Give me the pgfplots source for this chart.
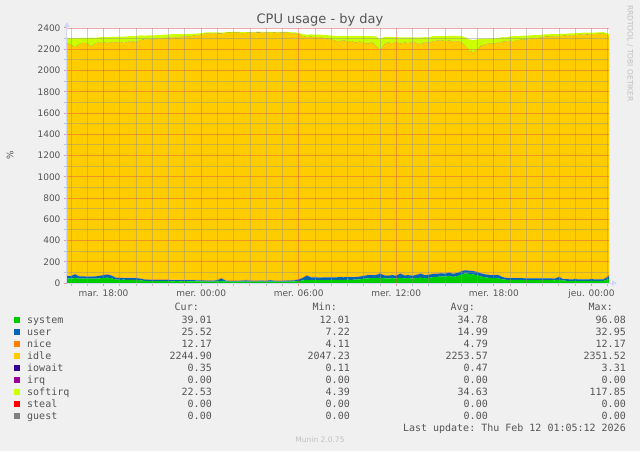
\documentclass[border=0pt]{standalone}
\usepackage{pgfplots}
\pgfplotsset{compat=1.18}
\usepackage{pgfplotstable}
\usepackage{fontspec}
\setmainfont{DejaVu Sans}
\setmonofont{DejaVu Sans Mono}
\usetikzlibrary{arrows.meta}

\definecolor{bgc}{HTML}{F0F0F0}
\definecolor{fontc}{HTML}{555555}
\definecolor{axisc}{HTML}{CFD6F8}
\definecolor{gridc}{RGB}{143,143,143}
\definecolor{mgridc}{RGB}{222,79,79}
\definecolor{faintc}{RGB}{192,192,192}
\definecolor{csystem}{HTML}{00CC00}
\definecolor{cuser}{HTML}{0066B3}
\definecolor{cnice}{HTML}{FF8000}
\definecolor{cidle}{HTML}{FFCC00}
\definecolor{ciowait}{HTML}{330099}
\definecolor{cirq}{HTML}{990099}
\definecolor{csoftirq}{HTML}{CCFF00}
\definecolor{csteal}{HTML}{FF0000}
\definecolor{cguest}{HTML}{808080}

% hours after Tue 18:00
\pgfplotstableread{
h sys usr nice idle iow soft
-2.25 44 20 4 2187 0.4 52
-2.00 42 24 4 2170 0.4 62
-1.75 46 36 4 2129 0.4 90
-1.50 41 21 4 2179 0.4 60
-1.25 43 19 5 2193 0.4 48
-1.00 40 20 4 2186 0.4 55
-0.75 42 18 4 2161 0.4 85
-0.50 41 21 4 2189 0.4 52
-0.25 44 22 5 2191 0.4 50
0.00 48 26 5 2186 0.4 50
0.25 50 30 5 2170 0.4 58
0.50 44 24 4 2198 0.4 48
0.75 32 17 4 2207 0.4 56
1.00 30 18 4 2216 0.4 50
1.25 31 16 4 2204 0.4 62
1.50 29 17 4 2220 0.4 52
1.75 30 16 4 2225 0.4 48
2.00 28 18 4 2212 0.4 60
2.25 26 15 4 2240 0.4 45
2.50 20 13 4 2253 0.4 38
2.75 19 12 4 2260 0.4 35
3.00 18 12 4 2251 0.4 45
3.25 18 11 4 2267 0.4 32
3.50 17 12 4 2272 0.4 30
3.75 18 11 4 2262 0.4 42
4.00 17 12 4 2277 0.4 28
4.25 16 11 4 2281 0.4 30
4.50 17 11 4 2273 0.4 38
4.75 16 12 5 2285 0.4 25
5.00 17 11 4 2288 0.4 24
5.25 16 10 4 2285 0.4 30
5.50 16 11 4 2294 0.4 20
5.75 15 10 4 2301 0.4 18
6.00 15 10 4 2306 0.4 15
6.25 14 9 4 2318 0.4 12
6.50 14 9 4 2321 0.4 10
6.75 13 8 4 2325 0.4 9
7.00 15 12 4 2315 0.4 12
7.25 18 25 4 2298 0.4 10
7.50 13 9 4 2326 0.4 8
7.75 12 8 4 2331 0.4 7
8.00 13 8 4 2328 0.4 9
8.25 12 8 5 2331 0.4 8
8.50 13 9 4 2324 0.4 10
8.75 14 10 8 2320 0.4 8
9.00 13 9 4 2329 0.4 7
9.25 12 8 4 2333 0.4 6
9.50 13 8 4 2329 3.3 8
9.75 13 9 4 2330 0.4 7
10.00 12 8 4 2334 0.4 6
10.25 14 12 4 2322 0.4 9
10.50 13 8 4 2330 0.4 7
10.75 12 9 4 2332 0.4 6
11.00 13 8 4 2329 0.4 8
11.25 13 9 4 2330 0.4 7
11.50 14 9 4 2323 0.4 10
11.75 15 10 4 2317 0.4 12
12.00 18 15 4 2303 0.4 14
12.25 24 24 4 2268 0.4 20
12.50 30 40 5 2237 0.4 25
12.75 26 27 4 2261 0.4 22
13.00 27 26 4 2251 0.4 28
13.25 26 25 4 2260 0.4 22
13.50 28 24 4 2249 0.4 30
13.75 27 26 4 2243 0.4 32
14.00 28 25 4 2233 0.4 38
14.25 29 24 4 2223 0.4 45
14.50 30 25 4 2211 0.4 55
14.75 28 26 4 2227 0.4 42
15.00 31 24 4 2206 0.4 60
15.25 30 25 4 2216 0.4 50
15.50 32 24 4 2200 0.4 65
15.75 34 26 4 2206 0.4 55
16.00 40 28 4 2190 0.4 62
16.25 44 30 5 2171 0.4 72
16.50 46 28 4 2187 0.4 58
16.75 45 30 4 2151 0.4 90
17.00 50 38 5 2092 0.4 112
17.25 44 28 4 2164 0.4 75
17.50 42 27 4 2189 0.4 55
17.75 45 29 4 2177 0.4 58
18.00 43 26 4 2195 0.4 45
18.25 48 40 4 2158 0.4 60
18.50 44 27 4 2187 0.4 50
18.75 46 28 4 2177 0.4 55
19.00 42 26 4 2198 0.4 42
19.25 47 30 4 2177 0.4 52
19.50 50 38 4 2153 0.4 65
19.75 45 28 4 2188 0.4 48
20.00 48 29 4 2179 0.4 52
20.25 55 30 5 2182 0.4 50
20.50 58 28 4 2188 0.4 45
20.75 62 30 4 2186 0.4 42
21.00 60 27 4 2184 0.4 50
21.25 66 32 5 2177 0.4 45
21.50 58 27 4 2183 0.4 55
21.75 65 30 4 2177 0.4 48
22.00 78 31 4 2149 0.4 60
22.25 92 28 5 2105 0.4 80
22.50 85 30 4 2061 0.4 110
22.75 80 32 4 2054 0.4 117
23.00 72 30 4 2089 0.4 98
23.25 60 28 4 2143 0.4 65
23.50 52 28 4 2161 0.4 55
23.75 48 27 4 2176 0.4 45
24.00 46 28 4 2172 0.4 52
24.25 45 30 6 2181 0.4 42
24.50 35 22 4 2207 0.4 45
24.75 30 18 4 2220 0.4 40
25.00 29 17 4 2228 0.4 42
25.25 28 18 4 2225 0.4 48
25.50 30 16 4 2235 0.4 38
25.75 28 17 4 2241 0.4 36
26.00 27 17 4 2240 0.4 40
26.25 28 16 4 2250 0.4 32
26.50 27 17 4 2254 0.4 30
26.75 28 16 4 2257 0.4 28
27.00 27 16 4 2265 0.4 25
27.25 26 17 4 2271 0.4 22
27.50 27 16 4 2268 0.4 26
27.75 25 16 4 2277 0.4 20
28.00 30 26 4 2258 0.4 24
28.25 22 15 4 2284 0.4 20
28.50 21 15 4 2288 0.4 18
28.75 20 14 4 2292 0.4 20
29.00 21 15 4 2292 0.4 18
29.25 20 14 4 2297 0.4 16
29.50 19 15 4 2300 0.4 18
29.75 20 14 4 2298 0.4 20
30.00 21 15 4 2300 0.4 16
30.25 20 14 4 2304 0.4 15
30.50 19 15 4 2307 0.4 14
30.75 20 14 5 2305 0.4 16
31.08 39.01 25.52 12.17 2244.90 0.35 22.53
}\cpu

% one row of the value table under the graph
\newcommand{\legrow}[7]{%
  \node[fill=#2, minimum size=6pt] at (17,{131-12*#1}) {};
  \node[anchor=base west] at (27,{127.4-12*#1}) {#3};
  \node[anchor=base east] at (212,{127.4-12*#1}) {#4};
  \node[anchor=base east] at (350,{127.4-12*#1}) {#5};
  \node[anchor=base east] at (488,{127.4-12*#1}) {#6};
  \node[anchor=base east] at (626,{127.4-12*#1}) {#7};
}

\begin{document}
\begin{tikzpicture}[x=1pt,y=1pt]
\fill[bgc] (0,0) rectangle (640,451);

\begin{axis}[
  at={(67pt,168pt)}, anchor=south west,
  scale only axis, width=542pt, height=255pt,
  xmin=-2.25, xmax=31.08, ymin=0, ymax=2400,
  stack plots=y,
  axis background/.style={fill=white},
  axis on top,
  axis lines=left,
  axis line style={draw=axisc, line width=1pt},
  x axis line style={-{Triangle[width=5pt,length=5pt]}, shorten >=-8pt},
  y axis line style={-{Triangle[width=5pt,length=5pt]}, shorten >=-6pt},
  xtick={0,6,...,30},
  xticklabels={mar. 18:00, mer. 00:00, mer. 06:00, mer. 12:00, mer. 18:00, jeu. 00:00},
  minor xtick={-2,-1,1,2,3,4,5,7,8,9,10,11,13,14,15,16,17,19,20,21,22,23,25,26,27,28,29,31},
  ytick={0,200,...,2400},
  minor ytick={100,300,...,2300},
  scaled y ticks=false,
  grid=both,
  major grid style={draw=mgridc, draw opacity=0.45, line width=0.8pt},
  minor grid style={draw=gridc, draw opacity=0.45, line width=0.8pt},
  tick align=outside,
  major tick length=3pt, minor tick length=3pt,
  major tick style={draw=mgridc, draw opacity=0.55, line width=1pt},
  minor tick style={draw=gridc, draw opacity=0.5, line width=1pt},
  tick label style={font=\fontsize{9}{10}\selectfont, text=fontc},
  /pgf/number format/assume math mode=true,
  yticklabel style={/pgf/number format/1000 sep={}},
  ylabel={\%},
  ylabel style={at={(axis description cs:-0.105,0.5)}, anchor=center,
    font=\fontsize{9}{10}\selectfont, text=fontc},
]
\addplot[fill=csystem, draw=none] table[x=h, y=sys] {\cpu} \closedcycle;
\addplot[fill=cuser, draw=none] table[x=h, y=usr] {\cpu} \closedcycle;
\addplot[fill=cnice, draw=none] table[x=h, y=nice] {\cpu} \closedcycle;
\addplot[fill=cidle, draw=none] table[x=h, y=idle] {\cpu} \closedcycle;
\addplot[fill=ciowait, draw=none] table[x=h, y=iow] {\cpu} \closedcycle;
\addplot[fill=csoftirq, draw=none] table[x=h, y=soft] {\cpu} \closedcycle;
\end{axis}

\node[anchor=base, text=fontc, font=\fontsize{13}{15}\selectfont] at (320,427) {CPU usage - by day};
\node[rotate=-90, text=faintc, font=\fontsize{7.5}{9}\selectfont] at (630,397.5) {RRDTOOL / TOBI OETIKER};

\begin{scope}[inner sep=0pt, text=fontc, font=\ttfamily\fontsize{10}{12}\selectfont]
  \node[anchor=base east] at (199,140.4) {Cur:};
  \node[anchor=base east] at (337,140.4) {Min:};
  \node[anchor=base east] at (475,140.4) {Avg:};
  \node[anchor=base east] at (613,140.4) {Max:};
  \legrow{0}{csystem}{system}{39.01}{12.01}{34.78}{96.08}
  \legrow{1}{cuser}{user}{25.52}{7.22}{14.99}{32.95}
  \legrow{2}{cnice}{nice}{12.17}{4.11}{4.79}{12.17}
  \legrow{3}{cidle}{idle}{2244.90}{2047.23}{2253.57}{2351.52}
  \legrow{4}{ciowait}{iowait}{0.35}{0.11}{0.47}{3.31}
  \legrow{5}{cirq}{irq}{0.00}{0.00}{0.00}{0.00}
  \legrow{6}{csoftirq}{softirq}{22.53}{4.39}{34.63}{117.85}
  \legrow{7}{csteal}{steal}{0.00}{0.00}{0.00}{0.00}
  \legrow{8}{cguest}{guest}{0.00}{0.00}{0.00}{0.00}
  \node[anchor=base east] at (626,19.4) {Last update: Thu Feb 12 01:05:12 2026};
  \node[anchor=base, text=faintc, font=\fontsize{7.5}{9}\selectfont] at (320,8.3) {Munin 2.0.75};
\end{scope}

\pgfresetboundingbox
\path[use as bounding box] (0,0) rectangle (640,451);
\end{tikzpicture}
\end{document}
